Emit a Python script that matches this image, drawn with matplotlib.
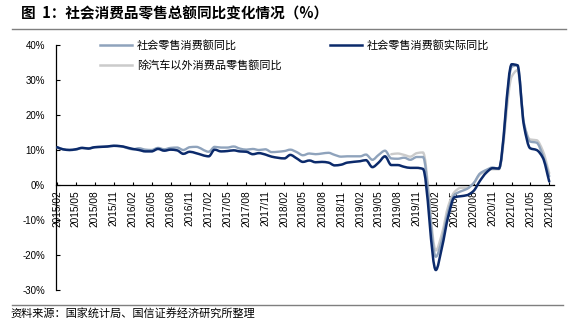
import numpy as np
import pandas as pd
import matplotlib
matplotlib.use("Agg")
import matplotlib.pyplot as plt
import matplotlib.dates as mdates
from matplotlib.path import Path
from matplotlib.patches import PathPatch
from matplotlib.lines import Line2D

plt.rcParams['font.family'] = ['Noto Sans CJK SC', 'DejaVu Sans']

# Monthly observations (January is released together with February, so it is absent)
months = [d for d in pd.date_range('2015-02-01', '2021-08-01', freq='MS') if d.month != 1]

nominal_yoy = [
    10.7, 10.2, 10.0, 10.1, 10.6, 10.5, 10.8, 10.9, 11.0, 11.2, 11.1,
    10.2, 10.5, 10.1, 10.0, 10.6, 10.2, 10.6, 10.7, 10.0, 10.8, 10.9,
    9.5, 10.9, 10.7, 10.7, 11.0, 10.4, 10.1, 10.3, 10.0, 10.2, 9.4,
    9.7, 10.1, 9.4, 8.5, 9.0, 8.8, 9.0, 9.2, 8.6, 8.1, 8.2,
    8.2, 8.7, 7.2, 8.6, 9.8, 7.6, 7.5, 7.8, 7.2, 8.0, 8.0,
    -20.5, -15.8, -7.5, -2.8, -1.8, -1.1, 0.5, 3.3, 4.3, 5.0, 4.6,
    33.8, 34.2, 17.7, 12.4, 12.1, 8.5, 2.5,
]

real_yoy = [
    10.8, 10.2, 10.0, 10.2, 10.6, 10.4, 10.8, 10.9, 11.0, 11.2, 11.1,
    10.3, 10.0, 9.6, 9.6, 10.3, 9.8, 10.1, 9.9, 8.9, 9.5, 9.1,
    8.2, 10.1, 9.6, 9.7, 9.9, 9.6, 9.5, 8.8, 9.1, 8.7, 8.1,
    7.6, 8.6, 7.6, 6.6, 7.0, 6.5, 6.6, 6.4, 5.6, 5.8, 6.4,
    6.8, 7.1, 5.1, 6.4, 8.2, 5.7, 5.7, 5.2, 4.9, 4.9, 4.6,
    -24.3, -18.0, -9.0, -3.5, -3.2, -2.9, -1.7, 1.2, 3.5, 4.8, 4.7,
    34.5, 34.2, 17.0, 10.5, 10.0, 7.8, 1.0,
]

# Retail sales excluding autos, published from July 2019
ex_auto_start = '2019-07-01'
ex_auto_yoy = [
    8.8, 9.0, 8.6, 8.1, 9.1, 9.3,
    -18.7, -14.0, -6.0, -2.0, -0.8, -0.8, 0.5, 3.0, 4.0, 4.5, 4.5,
    31.0, 32.8, 17.5, 13.0, 12.8, 9.8, 3.4,
]

series_labels = ['社会零售消费额同比', '除汽车以外消费品零售额同比', '社会零售消费额实际同比']
series_colors = ['#8FA3BC', '#CBCBCB', '#0B2A6B']

y_ticks = [-30, -20, -10, 0, 10, 20, 30, 40]

title_text = '图  1：社会消费品零售总额同比变化情况（%）'
source_text = '资料来源：国家统计局、国信证券经济研究所整理'


def smooth_path(x, y):
    """Smooth curve through every point: cubic Bezier with monotone (PCHIP) tangents."""
    x = np.asarray(x, float)
    y = np.asarray(y, float)
    n = len(x)
    h = np.diff(x)
    d = np.diff(y) / h
    m = np.zeros(n)
    m[0], m[-1] = d[0], d[-1]
    for k in range(1, n - 1):
        if d[k - 1] * d[k] > 0:
            w1 = 2 * h[k] + h[k - 1]
            w2 = h[k] + 2 * h[k - 1]
            m[k] = (w1 + w2) / (w1 / d[k - 1] + w2 / d[k])
    verts = [(x[0], y[0])]
    codes = [Path.MOVETO]
    for k in range(n - 1):
        verts += [(x[k] + h[k] / 3, y[k] + m[k] * h[k] / 3),
                  (x[k + 1] - h[k] / 3, y[k + 1] - m[k + 1] * h[k] / 3),
                  (x[k + 1], y[k + 1])]
        codes += [Path.CURVE4] * 3
    return Path(verts, codes)


x_all = mdates.date2num(months)
ex_dates = [d for d in months if d >= pd.Timestamp(ex_auto_start)]
x_ex = mdates.date2num(ex_dates)

W, H = 588, 323
fig = plt.figure(figsize=(W / 100, H / 100), dpi=100)
ax = fig.add_axes([56 / W, 1 - 290 / H, (554 - 56) / W, (290 - 45) / H])

ax.spines['top'].set_visible(False)
ax.spines['right'].set_visible(False)
ax.spines['bottom'].set_position(('data', 0))
for s in ('left', 'bottom'):
    ax.spines[s].set_linewidth(0.9)
    ax.spines[s].set_color('black')

for xs, ys, col, lw, z in [
    (x_ex, ex_auto_yoy, series_colors[1], 1.7, 2),
    (x_all, nominal_yoy, series_colors[0], 1.7, 3),
    (x_all, real_yoy, series_colors[2], 1.8, 4),
]:
    ax.add_patch(PathPatch(smooth_path(xs, ys), fill=False, edgecolor=col,
                           lw=lw, zorder=z, capstyle='round', joinstyle='round'))

x_left = mdates.date2num(pd.Timestamp('2015-02-01')) - 6
x_right = mdates.date2num(pd.Timestamp('2021-08-01')) + 23
ax.set_xlim(x_left, x_right)
ax.set_ylim(-30, 40)

tick_dates = pd.date_range('2015-02-01', '2021-08-01', freq='3MS')
ax.set_xticks(mdates.date2num(tick_dates))
ax.set_xticklabels([d.strftime('%Y/%m') for d in tick_dates],
                   fontsize=7.3, family=['Liberation Sans', 'DejaVu Sans'])
ax.set_yticks(y_ticks)
ax.set_yticklabels([f'{v}%' for v in y_ticks], fontsize=7,
                   family=['Liberation Sans', 'DejaVu Sans'])
ax.tick_params(axis='x', direction='in', length=2.5, width=0.8, pad=4,
               labelrotation=90)
ax.tick_params(axis='y', direction='in', length=3, width=0.8, pad=8)
ax.set_facecolor('none')

handles = [
    Line2D([], [], color=series_colors[0], lw=1.8),
    Line2D([], [], color=series_colors[1], lw=1.8),
    Line2D([], [], color=series_colors[2], lw=1.8),
]
fig.legend(handles, series_labels, ncol=2, loc='upper left',
           bbox_to_anchor=(100 / W, 1 - 40 / H), bbox_transform=fig.transFigure,
           frameon=False, fontsize=8, handlelength=2.9, handletextpad=0.4,
           columnspacing=4.4, labelspacing=0.85, borderpad=0, borderaxespad=0)

fig.text(21 / W, 1 - 13 / H, title_text, fontsize=10.5, fontweight='bold',
         va='center', ha='left')
fig.add_artist(Line2D([12 / W, 566 / W], [1 - 28.5 / H] * 2,
                      transform=fig.transFigure, color='#7F7F7F', lw=1.0))
fig.add_artist(Line2D([12 / W, 563 / W], [1 - 305 / H] * 2,
                      transform=fig.transFigure, color='#7F7F7F', lw=1.0))
fig.text(10 / W, 1 - 313.5 / H, source_text, fontsize=8, va='center', ha='left')

fig.savefig('out.png', dpi=100, facecolor='white')
